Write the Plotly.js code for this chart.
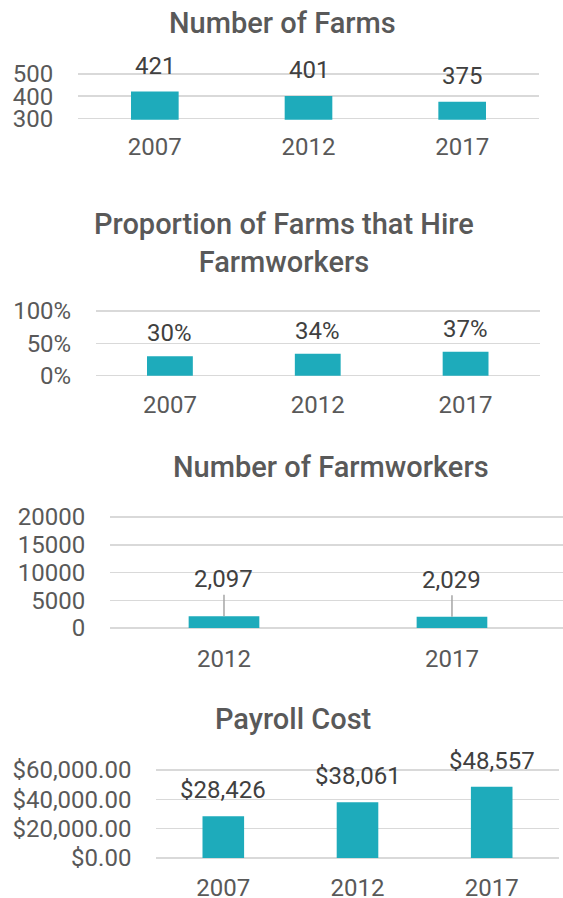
<!DOCTYPE html>
<html>
<head>
<meta charset="utf-8">
<script src="https://cdn.plot.ly/plotly-3.0.1.min.js"></script>
<style>
html,body{margin:0;padding:0;background:#fff;}
#chart{width:563px;height:898px;}
</style>
</head>
<body>
<div id="chart"></div>
<script>
// ---- data ----
const farmYears = ['2007', '2012', '2017'];
const farmCounts = [421, 401, 375];

const hireYears = ['2007', '2012', '2017'];
const hireShare = [0.30, 0.34, 0.37];

const workerYears = ['2012', '2017'];
const workerCounts = [2097, 2029];

const payrollYears = ['2007', '2012', '2017'];
const payrollCost = [28426, 38061, 48557];

const chartTitles = [
  'Number of Farms',
  'Proportion of Farms that Hire<br>Farmworkers',
  'Number of Farmworkers',
  'Payroll Cost'
];

// ---- styling ----
const W = 563, H = 898;
const BAR = '#1eabbb';
const GRID = '#d9d9d9';
const TICK = '#595959';
const LABEL = '#404040';
const FONT = 'Roboto, "Open Sans", sans-serif';
const px = v => v / W;
const py = v => 1 - v / H;

function fmtComma(v) { return v.toLocaleString('en-US'); }

const traces = [
  {type: 'bar', x: farmYears, y: farmCounts, xaxis: 'x', yaxis: 'y', marker: {color: BAR}, hoverinfo: 'none'},
  {type: 'bar', x: hireYears, y: hireShare, xaxis: 'x2', yaxis: 'y2', marker: {color: BAR}, hoverinfo: 'none'},
  {type: 'bar', x: workerYears, y: workerCounts, xaxis: 'x3', yaxis: 'y3', marker: {color: BAR}, hoverinfo: 'none'},
  {type: 'bar', x: payrollYears, y: payrollCost, xaxis: 'x4', yaxis: 'y4', marker: {color: BAR}, hoverinfo: 'none'}
];

function xax(d0, d1, r1, anchor) {
  return {
    domain: [px(d0), Math.min(1, px(d1))], anchor: anchor, type: 'category',
    range: [-0.5, r1], showgrid: false, zeroline: false, showline: false,
    ticks: 'outside', ticklen: 6, tickcolor: 'rgba(0,0,0,0)',
    tickfont: {family: FONT, size: 24, color: TICK}, fixedrange: true
  };
}
// top/bottom: pixel rows of range max/min; pad both a little so edge gridlines are kept
function yax(top, bottom, range, dtick, fmt, anchor) {
  const f = 0.03;
  const spanPx = bottom - top, spanV = range[1] - range[0];
  return {
    domain: [py(bottom + f * spanPx), py(top - f * spanPx)], anchor: anchor,
    range: [range[0] - f * spanV, range[1] + f * spanV], tick0: range[0], dtick: dtick,
    tickformat: fmt, showgrid: true, gridcolor: GRID, gridwidth: 1.5,
    zeroline: false, showline: false,
    ticks: 'outside', ticklen: 19, tickcolor: 'rgba(0,0,0,0)',
    tickfont: {family: FONT, size: 24, color: TICK}, fixedrange: true
  };
}

const annotations = [];
const titlePos = [[283, 23], [284, 243], [331, 467], [293, 719]];
chartTitles.forEach((t, i) => {
  annotations.push({
    text: t, xref: 'paper', yref: 'paper', x: px(titlePos[i][0]), y: py(titlePos[i][1]),
    xanchor: 'center', yanchor: 'middle', showarrow: false,
    font: {family: FONT, size: 29, color: TICK, weight: 500}
  });
});

function addLabels(xs, ys, texts, xr, yr, shift) {
  xs.forEach((x, i) => {
    annotations.push({
      text: texts[i], x: i, y: ys[i], xref: xr, yref: yr,
      xanchor: 'center', yanchor: 'bottom', yshift: shift, showarrow: false,
      font: {family: FONT, size: 24, color: LABEL}
    });
  });
}
addLabels(farmYears, farmCounts, farmCounts.map(String), 'x', 'y', 10);
addLabels(hireYears, hireShare, hireShare.map(v => Math.round(v * 100) + '%'), 'x2', 'y2', 7);
addLabels(payrollYears, payrollCost, payrollCost.map(v => '$' + fmtComma(v)), 'x4', 'y4', 10);
workerYears.forEach((x, i) => {
  annotations.push({
    text: fmtComma(workerCounts[i]), x: i, y: workerCounts[i], xref: 'x3', yref: 'y3',
    showarrow: true, arrowhead: 0, arrowwidth: 1.5, arrowcolor: '#a6a6a6',
    ax: 0, ay: -37, standoff: 0,
    font: {family: FONT, size: 24, color: LABEL}
  });
});

const layout = {
  width: W, height: H, margin: {l: 0, r: 0, t: 0, b: 0},
  paper_bgcolor: '#ffffff', plot_bgcolor: '#ffffff',
  showlegend: false, bargap: 0.69,
  font: {family: FONT, color: TICK},
  xaxis: xax(78, 539, 2.5, 'y'),
  yaxis: yax(74, 118.3, [300, 500], 100, 'd', 'x'),
  xaxis2: xax(96, 539.5, 2.5, 'y2'),
  yaxis2: yax(311, 375.7, [0, 1], 0.5, '.0%', 'x2'),
  xaxis3: xax(110, 563, 1.487, 'y3'),
  yaxis3: yax(517, 628, [0, 20000], 5000, 'd', 'x3'),
  xaxis4: xax(156.2, 558.8, 2.5, 'y4'),
  yaxis4: yax(770, 858, [0, 60000], 20000, '$,.2f', 'x4'),
  annotations: annotations
};

Plotly.newPlot('chart', traces, layout, {displayModeBar: false, staticPlot: true});
</script>
</body>
</html>
